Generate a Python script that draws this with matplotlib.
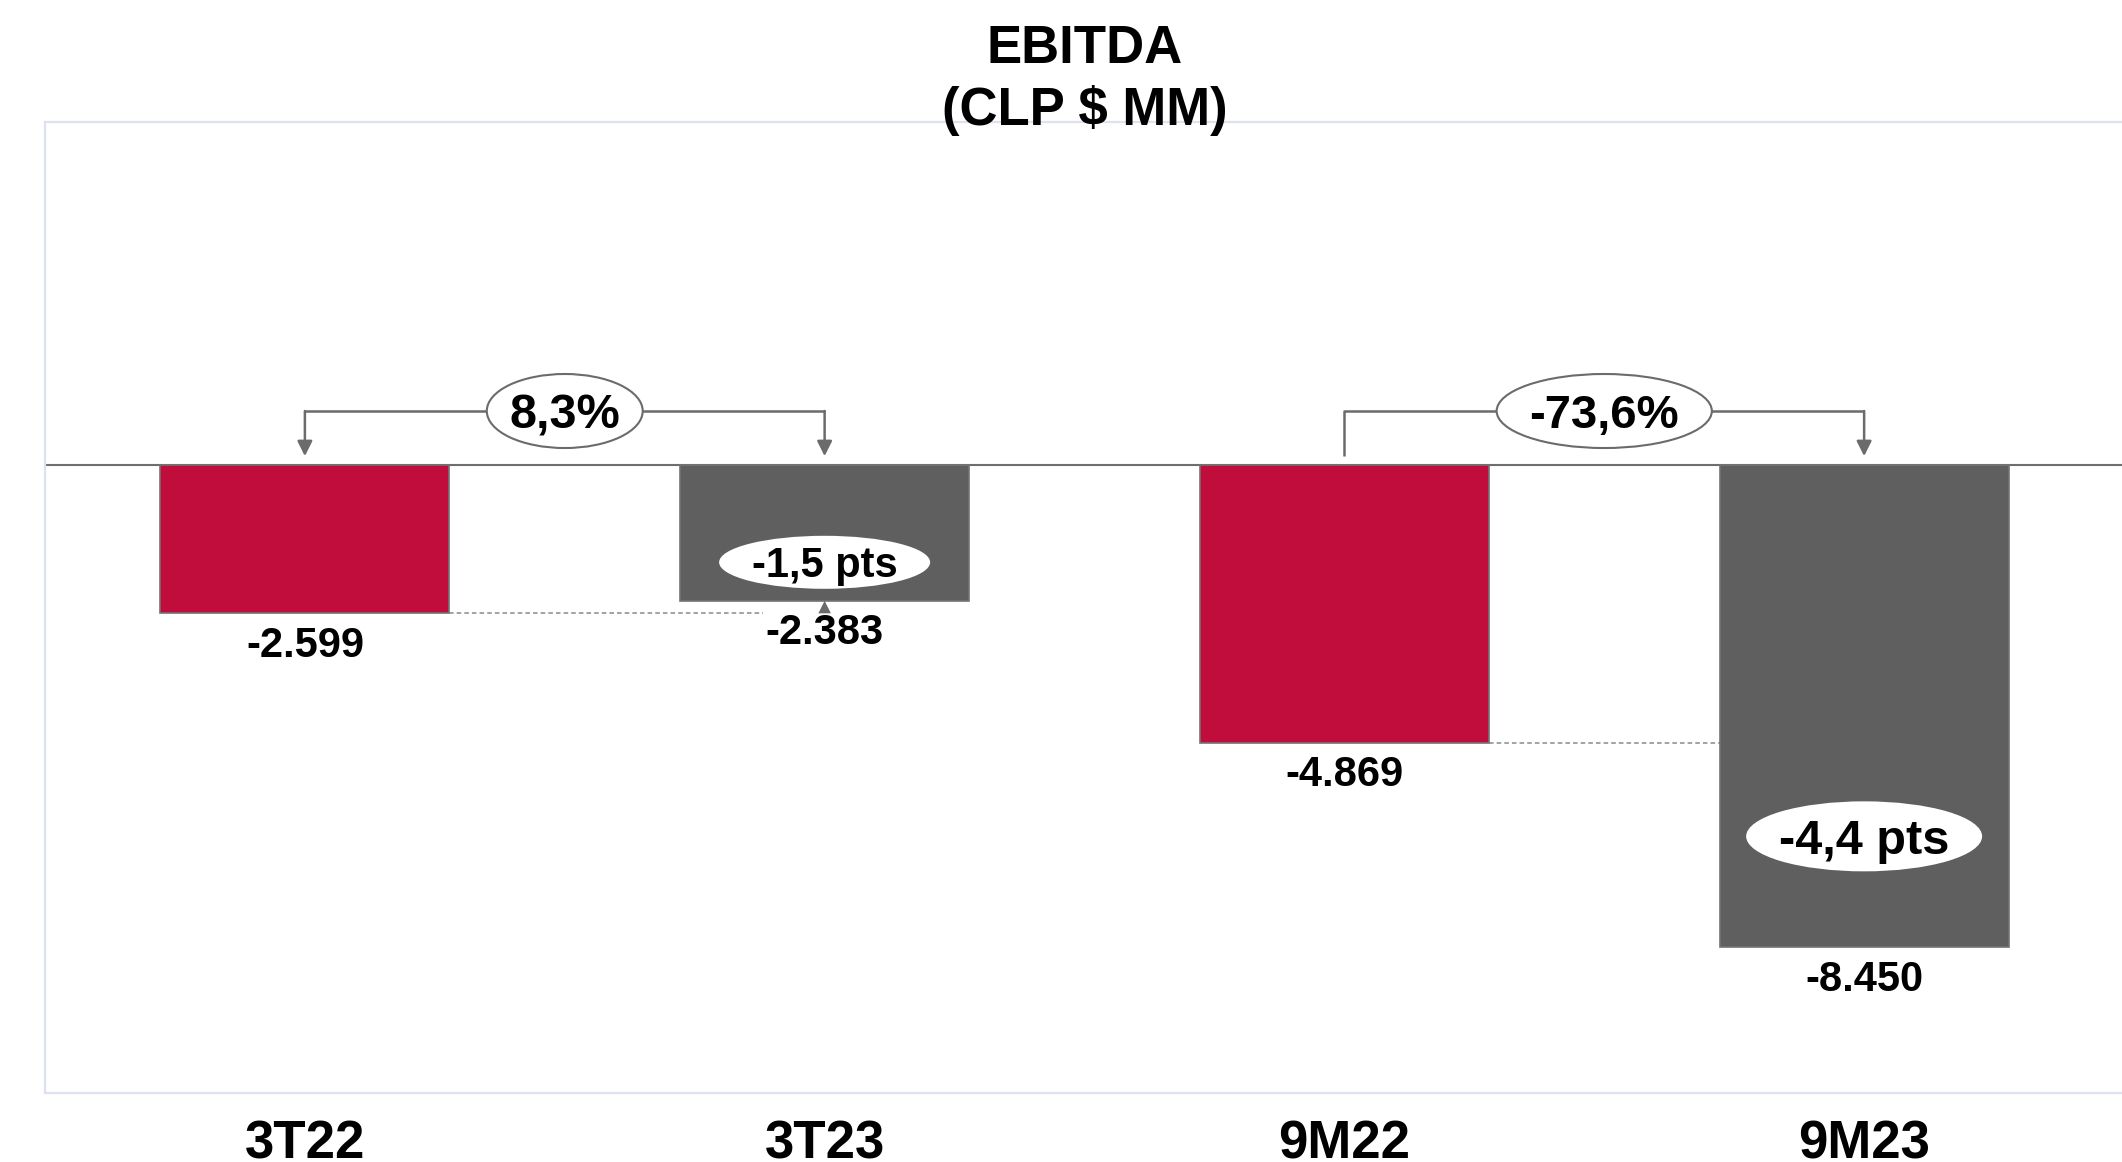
import matplotlib
matplotlib.use("Agg")
import matplotlib.pyplot as plt
from matplotlib.patches import Ellipse
from matplotlib.transforms import offset_copy

# ---- data -------------------------------------------------------------
categories = ["3T22", "3T23", "9M22", "9M23"]
ebitda = [-2599, -2383, -4869, -8450]
bar_colors = ["#C00D3B", "#5F5F5F", "#C00D3B", "#5F5F5F"]
pct_change = ["8,3%", "-73,6%"]          # variation between each pair
margin_change = ["-1,5 pts", "-4,4 pts"]  # change in EBITDA margin
title_lines = ["EBITDA", "(CLP \\$ MM)"]

FONT = ["Liberation Sans", "DejaVu Sans"]
plt.rcParams["font.family"] = FONT

W, H = 2122, 1162
fig = plt.figure(figsize=(W / 100, H / 100), dpi=100)
ax = fig.add_axes([45 / W, (H - 1093) / H, 2079 / W, 971 / H])
ax.set_xlim(-0.5, 3.5)
ax.set_ylim(-11000, 6000)

xs = list(range(len(categories)))
bar_w = 0.556

# frame
for side in ("left", "top", "bottom"):
    ax.spines[side].set_color("#DCE2EE")
    ax.spines[side].set_linewidth(1.6)
ax.spines["right"].set_visible(False)
ax.set_yticks([])
ax.set_xticks(xs, categories)
ax.tick_params(axis="x", length=0, pad=19, labelsize=38)
for t in ax.get_xticklabels():
    t.set_fontweight("bold")

# zero line
ax.axhline(0, color="#6E6E6E", lw=1.5, zorder=2)

# bars
ax.bar(xs, ebitda, width=bar_w, color=bar_colors, edgecolor="#737373",
       linewidth=1.2, zorder=3)

# reference dashed lines from the previous-year bar
ax.plot([xs[0] + bar_w / 2, xs[1]], [ebitda[0], ebitda[0]],
        ls=(0, (3, 2)), color="#8A8A8A", lw=1.1, zorder=1)
ax.plot([xs[2] + bar_w / 2, xs[3]], [ebitda[2], ebitda[2]],
        ls=(0, (3, 2)), color="#8A8A8A", lw=1.1, zorder=1)


def fmt(v):
    return f"{v:,}".replace(",", ".")


# value labels below each bar
for x, v in zip(xs, ebitda):
    tr = offset_copy(ax.transData, fig=fig, x=0, y=-31.3, units="points")
    ax.text(x, v, fmt(v), transform=tr, ha="center", va="baseline",
            fontsize=30, fontweight="bold", color="black", zorder=5,
            bbox=dict(boxstyle="square,pad=0.05", fc="white", ec="none"))

# small arrow from the 3T22 level up to the 3T23 bar
ax.annotate("", xy=(xs[1], ebitda[1]), xytext=(xs[1], ebitda[0] - 20),
            arrowprops=dict(arrowstyle="-|>,head_length=0.9,head_width=0.45",
                            color="#6A6A6A", lw=0, shrinkA=0, shrinkB=0),
            zorder=6)

# brackets with percentage change
y_br = 940
y_tip = 150
line_c = "#6B6B6B"
for (a, b), label, left_arrow in (((0, 1), pct_change[0], True),
                                  ((2, 3), pct_change[1], False)):
    xa, xb = xs[a], xs[b]
    ax.plot([xa, xa, xb, xb], [y_tip if not left_arrow else y_br, y_br, y_br, y_br],
            color=line_c, lw=1.8, zorder=2, solid_capstyle="butt")
    for xx, arrow in ((xa, left_arrow), (xb, True)):
        if arrow:
            ax.annotate("", xy=(xx, y_tip), xytext=(xx, y_br),
                        arrowprops=dict(arrowstyle="-|>,head_length=0.9,head_width=0.45",
                                        color=line_c, lw=1.8, shrinkA=0, shrinkB=0),
                        zorder=2)
    xm = (xa + xb) / 2
    ew = 0.300 if b == 1 else 0.414
    ax.add_patch(Ellipse((xm, y_br), ew, 1296, fc="white", ec=line_c,
                         lw=1.5, zorder=4))
    tr = offset_copy(ax.transData, fig=fig, x=0, y=-12.5, units="points")
    ax.text(xm, y_br, label, transform=tr, ha="center", va="baseline",
            fontsize=35 if b == 1 else 34, fontweight="bold", zorder=5)

# margin change bubbles inside the current-period bars
bubbles = [
    (xs[1], ebitda[1] * 0.717, 0.406, 928, margin_change[0], 30),
    (xs[3], ebitda[3] * 0.770, 0.454, 1226, margin_change[1], 35),
]
for x, y, ew, eh, label, fs in bubbles:
    ax.add_patch(Ellipse((x, y), ew, eh, fc="white", ec="none", zorder=4))
    tr = offset_copy(ax.transData, fig=fig, x=0, y=-fs * 0.36, units="points")
    ax.text(x, y, label, transform=tr, ha="center", va="baseline",
            fontsize=fs, fontweight="bold", zorder=5)

# title
cx = (45 + 45 + 2079) / 2 / W
fig.text(cx, 1 - 63 / H, title_lines[0], ha="center", va="baseline",
         fontsize=38, fontweight="bold")
fig.text(cx, 1 - 125 / H, title_lines[1], ha="center", va="baseline",
         fontsize=38, fontweight="bold")

fig.savefig("out.png", dpi=100)
